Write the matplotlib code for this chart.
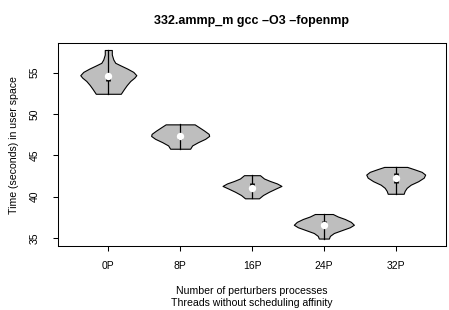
"""Violin plot of user-space run time per perturber count (332.ammp_m)."""

import matplotlib

matplotlib.use("Agg")
import matplotlib.pyplot as plt

plt.rcParams["font.family"] = ["Liberation Sans", "DejaVu Sans"]

groups = ["0P", "8P", "16P", "24P", "32P"]

# violin outlines: time (s) and half-width (x units)
time_0p = [57.75, 57.2, 56.6, 56.2, 55.9, 55.5, 55.1, 54.7, 54.4, 54.0, 53.5, 53.0, 52.45]
half_0p = [0.049, 0.049, 0.07, 0.097, 0.167, 0.264, 0.348, 0.39, 0.362, 0.306, 0.257, 0.216, 0.174]

time_8p = [48.75, 48.4, 48.0, 47.6, 47.35, 47.0, 46.6, 46.2, 45.8]
half_8p = [0.202, 0.264, 0.334, 0.397, 0.404, 0.348, 0.25, 0.167, 0.139]

time_16p = [42.6, 42.2, 41.9, 41.6, 41.3, 41.0, 40.6, 40.2, 39.8]
half_16p = [0.111, 0.167, 0.25, 0.348, 0.41, 0.334, 0.237, 0.153, 0.097]

time_24p = [37.9, 37.6, 37.3, 36.95, 36.6, 36.3, 35.95, 35.6, 35.25, 34.93]
half_24p = [0.125, 0.195, 0.292, 0.376, 0.418, 0.362, 0.25, 0.139, 0.084, 0.07]

time_32p = [43.6, 43.3, 43.0, 42.67, 42.3, 41.87, 41.45, 41.07, 40.7, 40.35]
half_32p = [0.16, 0.264, 0.362, 0.41, 0.39, 0.313, 0.209, 0.153, 0.125, 0.111]

q1 = [54.0, 47.0, 40.75, 36.4, 41.7]
median = [54.6, 47.3, 41.1, 36.6, 42.3]
q3 = [54.9, 47.6, 41.7, 37.0, 42.85]

outlines = [
    (time_0p, half_0p),
    (time_8p, half_8p),
    (time_16p, half_16p),
    (time_24p, half_24p),
    (time_32p, half_32p),
]

fig = plt.figure(figsize=(4.49, 3.10), dpi=100)
ax = fig.add_axes([58 / 449, 1 - 246 / 310, 388 / 449, 202.7 / 310])

for i, (ts, hw) in enumerate(outlines):
    x = i + 1
    ax.fill_betweenx(
        ts,
        [x - w for w in hw],
        [x + w for w in hw],
        facecolor="#BEBEBE",
        edgecolor="black",
        linewidth=0.8,
        zorder=2,
    )
    ax.plot([x, x], [min(ts), max(ts)], color="black", linewidth=0.9, zorder=3)
    ax.plot([x, x], [q1[i], q3[i]], color="black", linewidth=3.4,
            solid_capstyle="butt", zorder=4)
    ax.scatter([x], [median[i]], s=28, color="white", zorder=5, linewidths=0)

ax.set_xlim(0.3, 5.7)
ax.set_ylim(34.03, 58.56)
ax.set_xticks(range(1, len(groups) + 1))
ax.set_xticklabels(groups)
ax.set_yticks([35, 40, 45, 50, 55])
ax.tick_params(axis="both", length=3.6, width=0.75, labelsize=7.5, color="black")
ax.tick_params(axis="x", pad=7)
ax.tick_params(axis="y", pad=9.5)
for lab in ax.get_yticklabels():
    lab.set_rotation(90)
    lab.set_va("center")
for spine in ax.spines.values():
    spine.set_linewidth(0.75)

ax.set_ylabel("Time (seconds) in user space", fontsize=7.6, labelpad=7.5)
ax.set_xlabel("Number of perturbers processes\nThreads without scheduling affinity",
              fontsize=7.6, labelpad=11, linespacing=1.25)
ax.set_title("332.ammp_m gcc \u2013O3 \u2013fopenmp", fontsize=9,
             fontweight="bold", pad=14)

fig.savefig("out.png", dpi=100)
